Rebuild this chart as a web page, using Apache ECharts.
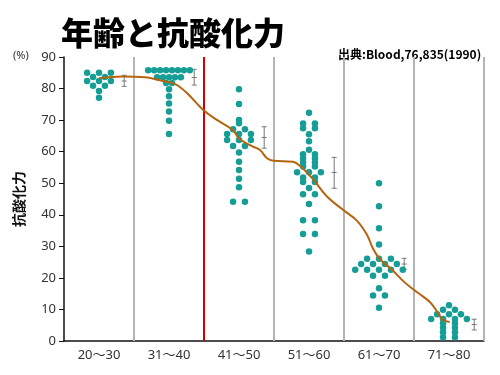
<!DOCTYPE html>
<html><head><meta charset="utf-8">
<script src="https://cdn.jsdelivr.net/npm/echarts@6/dist/echarts.min.js"></script>
<style>html,body{margin:0;padding:0;background:#fff}#c{width:500px;height:375px}</style>
</head><body><div id="c"></div>
<script>
const categories = ['20〜30','31〜40','41〜50','51〜60','61〜70','71〜80'];
const yTicks = [0,10,20,30,40,50,60,70,80,90];

// individual measurements per age group (value) and their swarm lane in the original figure
const g1Values = [85.0,85.0,85.0, 83.7,83.7, 82.4,82.4,82.4, 80.9,80.9, 79.2, 77.1];
const g1Lanes  = [-2,0,2, -1,1, -2,0,2, -1,1, 0, 0];
const g2Values = [85.8,85.8,85.8,85.8,85.8,85.8,85.8,85.8, 83.6,83.6,83.6,83.6,83.6, 81.8,81.8, 79.8, 77.6, 75.3, 72.7, 69.8, 65.6];
const g2Lanes  = [-3.5,-2.5,-1.5,-0.5,0.5,1.5,2.5,3.5, -2,-1,0,1,2, -0.5,0.5, 0,0,0,0,0,0];
const g3Values = [79.8, 75.1, 70.0, 69.0, 67.1,67.1, 65.6,65.6,65.6, 63.7,63.7,63.7, 61.8,61.8, 59.7, 56.8, 54.2, 51.4, 48.7, 44.1,44.1];
const g3Lanes  = [0,0,0,0, -1,1, -2,0,2, -2,0,2, -1,1, 0,0,0,0,0, -1,1];
const g4Values = [72.3, 68.9,68.9, 67.4,67.4, 65.5, 63.3, 60.6, 59.2,59.2, 57.9,57.9, 56.6,56.6, 55.3,55.3, 53.5,53.5,53.5, 51.8,51.8, 50.4,50.4, 48.5, 46.5,46.5, 43.4, 38.3,38.3, 33.9,33.9, 28.4];
const g4Lanes  = [0, -1,1, -1,1, 0, 0, 0, -1,1, -1,1, -1,1, -1,1, -2,0,2, -1,1, -1,1, 0, -1,1, 0, -1,1, -1,1, 0];
const g5Values = [50.0, 42.7, 35.7, 30.6, 26.1,26.1,26.1, 24.4,24.4,24.4,24.4, 22.6,22.6,22.6,22.6,22.6, 20.7,20.7, 16.7, 14.4,14.4, 10.5];
const g5Lanes  = [0,0,0,0, -2,0,2, -3,-1,1,3, -4,-2,0,2,4, -1,1, 0, -1,1, 0];
const g6Values = [11.3, 9.9,9.9, 8.5,8.5,8.5, 7.0,7.0,7.0,7.0, 5.6,5.6, 4.2,4.2, 2.8,2.8, 1.2,1.2];
const g6Lanes  = [0, -1,1, -2,0,2, -3,-1,1,3, -1,1, -1,1, -1,1, -1,1];

// mean ± range per group
const errMean = [82.4, 83.5, 64.5, 53.4, 24.4, 5.2];
const errLow  = [80.7, 81.1, 61.1, 48.4, 22.7, 3.5];
const errHigh = [84.2, 86.1, 67.9, 58.2, 26.2, 6.9];

// trend curve (x in category units, y in %)
const curveX = [0, 0.34, 0.66, 0.87, 1.04, 1.13, 1.26, 1.49, 1.69, 1.91, 2.01, 2.2, 2.3, 2.4, 2.49, 2.77, 2.87, 3.06, 3.26, 3.49, 3.69, 3.83, 3.91, 4.01, 4.19, 4.37, 4.56, 4.73, 4.84, 4.91, 5.01];
const curveY = [83.3, 83.8, 83.6, 82.6, 81.8, 80.9, 78.5, 73.2, 70.0, 66.9, 64.0, 61.6, 60.5, 57.9, 57.1, 56.8, 55.5, 51.2, 45.7, 41.5, 38.0, 33.6, 29.5, 26.0, 22.5, 18.5, 15.2, 12.3, 9.0, 6.8, 6.0];

const redBoundary = [1.5];
const grayBoundaries = [0.5, 2.5, 3.5, 4.5, 5.5];

const LANE = 0.085;
const ERR_OFFSET = 0.36;
const groups = [[g1Values,g1Lanes],[g2Values,g2Lanes],[g3Values,g3Lanes],[g4Values,g4Lanes],[g5Values,g5Lanes],[g6Values,g6Lanes]];
const dots = [];
groups.forEach(([vals, lanes], gi) => vals.forEach((v, k) => dots.push([gi + lanes[k] * LANE, v])));
const curve = curveX.map((x, i) => [x, curveY[i]]);
const errData = errMean.map((m, i) => [i + ERR_OFFSET, m, errLow[i], errHigh[i]]);

const chart = echarts.init(document.getElementById('c'), null, {renderer: 'canvas'});
chart.setOption({
  animation: false,
  backgroundColor: '#fff',
  textStyle: {fontFamily: '"Noto Sans", "Noto Sans CJK JP", sans-serif'},
  grid: {left: 64, right: 16, top: 57, bottom: 34},
  graphic: [
    {type: 'text', left: 61, top: 17, style: {text: '年齢と抗酸化力', font: '900 32px "Noto Sans CJK JP", sans-serif', fill: '#000'}},
    {type: 'text', left: 338, top: 48, style: {text: '出典:Blood,76,835(1990)', font: 'bold 12px "Noto Sans CJK JP", sans-serif', fill: '#000'}},
    {type: 'text', left: 13, top: 50, style: {text: '(%)', font: '11px "Noto Sans", sans-serif', fill: '#333'}}
  ],
  xAxis: [
    {type: 'category', data: categories, boundaryGap: true,
     axisLine: {onZero: false, lineStyle: {color: '#111', width: 1.5}}, axisTick: {show: false},
     axisLabel: {color: '#333', fontSize: 13, margin: 8}, splitLine: {show: false}},
    {type: 'value', min: -0.5, max: 5.5, show: false, splitLine: {show: false}}
  ],
  yAxis: {type: 'value', min: yTicks[0], max: yTicks[yTicks.length-1], interval: 10,
    name: '抗酸化力', nameLocation: 'middle', nameRotate: 90, nameGap: 38,
    nameTextStyle: {fontSize: 14, fontWeight: 'bold', color: '#111', fontFamily: '"Noto Sans CJK JP", sans-serif'},
    axisLine: {show: true, onZero: false, lineStyle: {color: '#111', width: 1.5}},
    axisTick: {show: true, length: 5, lineStyle: {color: '#111'}},
    axisLabel: {color: '#333', fontSize: 13, margin: 8},
    splitLine: {show: false}},
  series: [
    {type: 'line', xAxisIndex: 1, data: [], z: 1, silent: true,
     markLine: {silent: true, symbol: 'none', label: {show: false},
       data: [
         ...grayBoundaries.map(x => ({xAxis: x, lineStyle: {color: '#b4b4b4', width: 2, type: 'solid'}})),
         ...redBoundary.map(x => ({xAxis: x, lineStyle: {color: '#d40000', width: 2, type: 'solid'}}))
       ]}},
    {type: 'scatter', xAxisIndex: 1, data: dots, symbolSize: 6.5, z: 3,
     itemStyle: {color: '#169e96', opacity: 1}},
    {type: 'custom', xAxisIndex: 1, data: errData, z: 3,
     renderItem: function (params, api) {
       const x = api.value(0);
       const pm = api.coord([x, api.value(1)]);
       const pl = api.coord([x, api.value(2)]);
       const ph = api.coord([x, api.value(3)]);
       const st = {stroke: '#777', lineWidth: 1};
       const w = 2.5;
       return {type: 'group', children: [
         {type: 'line', shape: {x1: pl[0], y1: pl[1], x2: ph[0], y2: ph[1]}, style: st},
         {type: 'line', shape: {x1: pl[0]-w, y1: pl[1], x2: pl[0]+w, y2: pl[1]}, style: st},
         {type: 'line', shape: {x1: ph[0]-w, y1: ph[1], x2: ph[0]+w, y2: ph[1]}, style: st},
         {type: 'line', shape: {x1: pm[0]-w, y1: pm[1], x2: pm[0]+w, y2: pm[1]}, style: st}
       ]};
     }},
    {type: 'line', xAxisIndex: 1, data: curve, smooth: 0.4, showSymbol: false, z: 5,
     lineStyle: {color: '#b5650f', width: 2}}
  ]
});
</script></body></html>
